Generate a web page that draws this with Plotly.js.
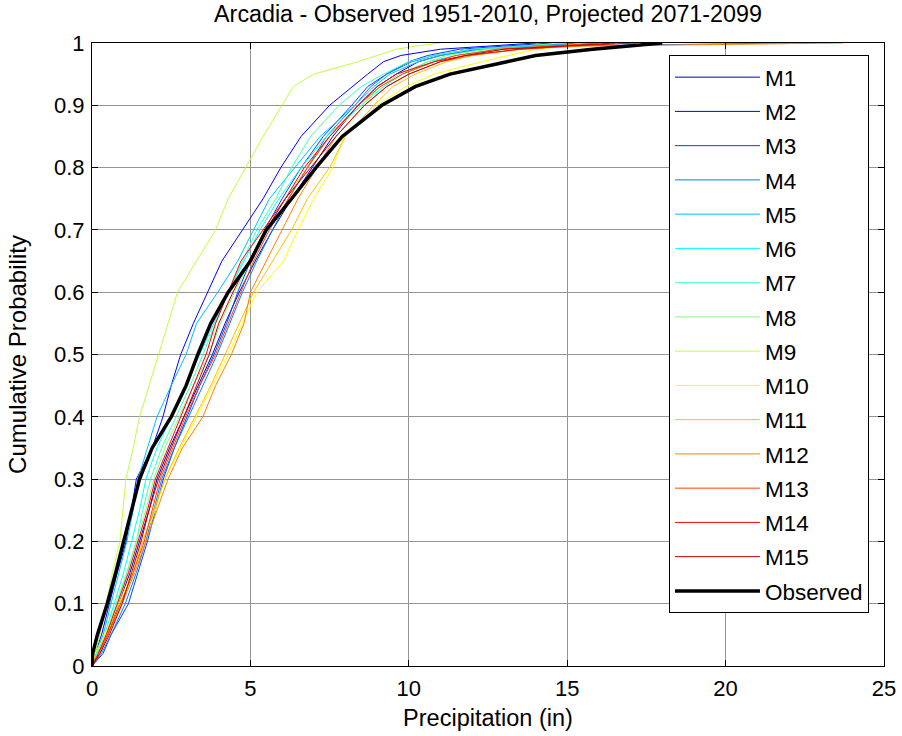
<!DOCTYPE html>
<html><head><meta charset="utf-8">
<script src="https://cdn.plot.ly/plotly-3.0.1.min.js"></script>
<style>body{margin:0;background:#fff}#chart{width:902px;height:736px}</style>
</head><body><div id="chart"></div>
<script>
// cumulative probability levels at which each curve was read
const probs = [0, 0.02, 0.05, 0.1, 0.15, 0.2, 0.25, 0.3, 0.35, 0.4, 0.45, 0.5, 0.55, 0.6, 0.65, 0.7, 0.75, 0.8, 0.85, 0.9, 0.93, 0.95, 0.97, 0.98, 0.99, 0.995, 1];

// precipitation (in) at each probability level
const m1  = [0, 0.2, 0.5, 0.85, 1.2, 1.5, 1.8, 2.05, 2.45, 2.9, 3.35, 3.8, 4.2, 4.65, 5.15, 5.7, 6.3, 6.95, 7.6, 8.4, 9.0, 9.6, 10.3, 11.0, 12.2, 13.5, 15.5];
const m2  = [0, 0.1, 0.3, 0.55, 0.8, 1.08, 1.25, 1.4, 1.9, 2.24, 2.5, 2.8, 3.2, 3.66, 4.1, 4.75, 5.4, 5.96, 6.6, 7.5, 8.2, 8.7, 9.2, 9.75, 11.0, 12.5, 14.0];
const m3  = [0, 0.35, 0.6, 1.15, 1.45, 1.75, 2.0, 2.25, 2.6, 3.0, 3.4, 3.85, 4.25, 4.6, 5.0, 5.45, 6.0, 6.6, 7.3, 8.2, 8.7, 9.3, 10.0, 10.6, 11.6, 13.0, 14.5];
const m4  = [0, 0.3, 0.6, 1.05, 1.4, 1.7, 1.95, 2.2, 2.6, 3.05, 3.5, 3.95, 4.35, 4.75, 5.2, 5.7, 6.2, 6.8, 7.4, 8.3, 8.8, 9.3, 10.1, 10.8, 12.0, 14.5, 22.0];
const m5  = [0, 0.12, 0.35, 0.6, 0.85, 1.1, 1.3, 1.45, 1.75, 2.05, 2.5, 2.97, 3.3, 3.97, 4.6, 5.1, 5.6, 6.4, 7.2, 8.3, 8.9, 9.4, 10.3, 11.0, 12.3, 14.0, 15.5];
const m6  = [0, 0.15, 0.4, 0.7, 1.0, 1.25, 1.5, 1.7, 2.05, 2.5, 2.95, 3.4, 3.85, 4.3, 4.8, 5.3, 5.9, 6.6, 7.4, 8.5, 9.2, 9.8, 10.6, 11.5, 13.0, 14.5, 16.0];
const m7  = [0, 0.2, 0.45, 0.8, 1.1, 1.4, 1.6, 1.85, 2.2, 2.65, 3.1, 3.5, 3.9, 4.3, 4.75, 5.2, 5.8, 6.3, 6.9, 7.8, 8.5, 9.2, 10.0, 10.8, 12.0, 13.5, 15.0];
const m8  = [0, 0.2, 0.45, 0.75, 1.1, 1.4, 1.7, 1.95, 2.3, 2.75, 3.2, 3.7, 4.05, 4.5, 5.0, 5.5, 6.1, 6.8, 7.5, 8.5, 9.1, 9.7, 10.6, 11.2, 12.5, 14.5, 16.5];
const m9  = [0, 0.1, 0.25, 0.45, 0.65, 0.88, 0.97, 1.07, 1.3, 1.5, 1.8, 2.1, 2.4, 2.7, 3.3, 3.9, 4.3, 4.85, 5.4, 6.0, 6.35, 7.0, 8.4, 9.0, 9.6, 10.2, 11.0];
const m10 = [0, 0.1, 0.4, 0.85, 1.25, 1.6, 2.0, 2.3, 2.8, 3.3, 3.8, 4.3, 4.75, 5.2, 6.05, 6.5, 7.0, 7.6, 7.95, 9.0, 9.9, 10.8, 12.3, 13.2, 14.0, 14.8, 15.5];
const m11 = [0, 0.2, 0.45, 0.9, 1.3, 1.6, 1.95, 2.3, 2.75, 3.25, 3.75, 4.2, 4.65, 5.1, 5.7, 6.3, 6.8, 7.5, 8.0, 8.9, 9.5, 10.2, 11.2, 12.0, 13.5, 15.0, 17.0];
const m12 = [0, 0.2, 0.5, 0.95, 1.35, 1.7, 2.05, 2.4, 2.85, 3.5, 3.9, 4.4, 4.8, 5.0, 5.5, 6.0, 6.5, 7.1, 7.7, 8.6, 9.3, 10.0, 11.0, 12.0, 13.5, 15.5, 23.7];
const m13 = [0, 0.25, 0.5, 0.9, 1.3, 1.65, 1.9, 2.15, 2.55, 2.95, 3.4, 3.9, 4.3, 4.7, 5.1, 5.6, 6.2, 6.8, 7.5, 8.4, 9.1, 9.8, 10.8, 11.5, 12.8, 14.5, 16.0];
const m14 = [0, 0.2, 0.45, 0.8, 1.15, 1.45, 1.75, 2.0, 2.4, 2.8, 3.2, 3.6, 3.9, 4.3, 4.7, 5.4, 6.1, 6.7, 7.5, 8.4, 9.0, 9.6, 10.8, 11.8, 13.5, 15.0, 17.2];
const m15 = [0, 0.25, 0.55, 0.95, 1.25, 1.55, 1.8, 2.1, 2.5, 2.9, 3.3, 3.7, 4.0, 4.45, 4.95, 5.5, 6.1, 6.9, 7.7, 8.6, 9.3, 10.0, 11.0, 11.8, 13.0, 14.8, 16.5];
const observed = [0, 0.02, 0.17, 0.48, 0.75, 1.0, 1.25, 1.5, 1.9, 2.5, 2.97, 3.34, 3.75, 4.3, 5.0, 5.5, 6.3, 7.07, 7.9, 9.15, 10.2, 11.3, 13.1, 14.0, 15.8, 16.8, 18.0];

const modelNames = ['M1','M2','M3','M4','M5','M6','M7','M8','M9','M10','M11','M12','M13','M14','M15'];
const modelSeries = [m1,m2,m3,m4,m5,m6,m7,m8,m9,m10,m11,m12,m13,m14,m15];
const modelColors = ['#0000bf','#0000ff','#0040ff','#0080ff','#00bfff','#00ffff','#40ffbf','#80ff80','#bfff40','#ffff00','#ffbf00','#ff8000','#ff4000','#ff0000','#bf0000'];

const font = 'Liberation Sans, Arial, Helvetica, sans-serif';
const traces = modelSeries.map((xs, i) => ({
  x: xs, y: probs, type: 'scatter', mode: 'lines', name: modelNames[i],
  legendgroup: 'g' + i,
  line: {color: modelColors[i], width: 1}
}));
traces.push({x: observed, y: probs, type: 'scatter', mode: 'lines', name: 'Observed',
  legendgroup: 'obs', line: {color: '#000000', width: 3.5}});

const axisCommon = {
  showline: true, linecolor: '#000', linewidth: 1, mirror: 'ticks',
  ticks: 'inside', ticklen: 6, tickcolor: '#000', tickwidth: 1,
  showgrid: true, gridcolor: '#959595', gridwidth: 1, zeroline: false,
  tickfont: {family: font, size: 22, color: '#000'}
};

const layout = {
  width: 902, height: 736,
  margin: {l: 92, r: 18, t: 43, b: 70},
  paper_bgcolor: '#fff', plot_bgcolor: '#fff',
  title: {text: 'Arcadia - Observed 1951-2010, Projected 2071-2099',
    font: {family: font, size: 23.3, color: '#000'},
    x: 0.5, xref: 'paper', xanchor: 'center', y: 1 - 14/736, yanchor: 'middle'},
  xaxis: Object.assign({}, axisCommon, {range: [0, 25], dtick: 5, tick0: 0, ticklabelstandoff: 3,
    title: {text: 'Precipitation (in)', font: {family: font, size: 23.5, color: '#000'}, standoff: 9}}),
  yaxis: Object.assign({}, axisCommon, {range: [0, 1], dtick: 0.1, tick0: 0, ticklabelstandoff: 2,
    title: {text: 'Cumulative Probability', font: {family: font, size: 24, color: '#000'}, standoff: 20}}),
  showlegend: true,
  legend: {x: 0.7285, y: 0.9807, xanchor: 'left', yanchor: 'top',
    bgcolor: '#fff', bordercolor: '#000', borderwidth: 1,
    font: {family: font, size: 22.5, color: '#000'},
    traceorder: 'grouped', tracegroupgap: 2, itemwidth: 85}
};

Plotly.newPlot('chart', traces, layout, {displayModeBar: false, staticPlot: true});
</script></body></html>
